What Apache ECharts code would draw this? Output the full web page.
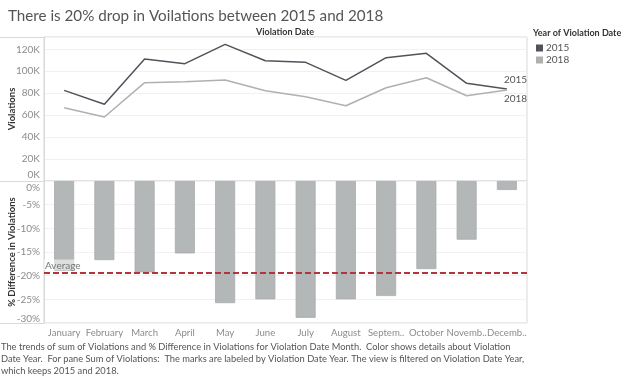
<!DOCTYPE html>
<html><head><meta charset="utf-8">
<script src="https://cdn.jsdelivr.net/npm/echarts@6/dist/echarts.min.js"></script>
<style>html,body{margin:0;padding:0;background:#fff}#c{width:624px;height:379px}</style>
</head><body><div id="c"></div>
<script>
const months = ['January','February','March','April','May','June','July','August','Septem..','October','Novemb..','Decemb..'];
const v2015 = [82600, 69900, 111200, 106900, 124500, 109600, 108100, 91700, 112400, 116300, 89000, 83800];
const v2018 = [66800, 58300, 89600, 90500, 92000, 82300, 76800, 68600, 85000, 94100, 77700, 82900];
const pctDiff = [-19.0, -16.7, -19.3, -15.3, -25.8, -25.0, -28.9, -25.0, -24.3, -18.6, -12.4, -1.9];
const years = ['2015', '2018'];

const FONT = 'Lato, "Open Sans", sans-serif';
const tickColor = '#8c8c8c';
const chart = echarts.init(document.getElementById('c'), null, {renderer: 'canvas'});

chart.setOption({
  animation: false,
  textStyle: {fontFamily: FONT},
  title: {
    text: 'There is 20% drop in Voilations between 2015 and 2018',
    left: 3, top: 4,
    textStyle: {fontSize: 15.2, fontWeight: 'normal', color: '#555', fontFamily: FONT}
  },
  legend: {
    data: years, orient: 'vertical', left: 531, top: 37,
    icon: 'rect', itemWidth: 7, itemHeight: 7, itemGap: 0,
    textStyle: {fontSize: 10, color: '#555', lineHeight: 12, padding: [0, 0, 0, -2]}
  },
  grid: [
    {left: 44, top: 37, width: 483, height: 144, show: true, borderColor: '#d9d9d9', borderWidth: 1,
     outerBoundsMode: 'none', containLabel: false},
    {left: 44, top: 181, width: 483, height: 142, show: true, borderColor: '#d9d9d9', borderWidth: 1,
     outerBoundsMode: 'none', containLabel: false}
  ],
  xAxis: [
    {type: 'category', gridIndex: 0, data: months, axisLabel: {show: false}, axisTick: {show: false},
     axisLine: {show: false}},
    {type: 'category', gridIndex: 1, data: months,
     axisLabel: {fontSize: 9.6, color: tickColor, margin: 5, interval: 0}, axisTick: {show: false},
     axisLine: {show: false}}
  ],
  yAxis: [
    {type: 'value', gridIndex: 0, min: 0, max: 131200, interval: 20000,
     name: 'Violations', nameLocation: 'middle', nameGap: 27, nameMoveOverlap: false,
     nameTextStyle: {fontSize: 9.5, fontWeight: 'bold', color: '#333'},
     axisLine: {show: true, lineStyle: {color: '#d9d9d9'}}, axisTick: {show: false},
     splitLine: {lineStyle: {color: '#f1f1f1'}},
     axisLabel: {fontSize: 10, color: tickColor, margin: 4,
       formatter: v => v === 0 ? '{z|0K}' : (v % 20000 === 0 ? (v / 1000) + 'K' : ''),
       rich: {z: {fontSize: 10, color: tickColor, padding: [0, 0, 13, 0]}}}},
    {type: 'value', gridIndex: 1, min: -30, max: 0, interval: 5,
     name: '% Difference in Violations', nameLocation: 'middle', nameGap: 27, nameMoveOverlap: false,
     nameTextStyle: {fontSize: 9.5, fontWeight: 'bold', color: '#333'},
     axisLine: {show: true, lineStyle: {color: '#d9d9d9'}}, axisTick: {show: false},
     splitLine: {lineStyle: {color: '#f1f1f1'}},
     axisLabel: {fontSize: 10, color: tickColor, margin: 4,
       formatter: v => v === 0 ? '{t|0%}' : (v === -30 ? '{b|-30%}' : v + '%'),
       rich: {t: {fontSize: 10, color: tickColor, padding: [13, 0, 0, 0]},
              b: {fontSize: 10, color: tickColor, padding: [0, 0, 8, 0]}}}}
  ],
  series: [
    {name: '2015', type: 'line', xAxisIndex: 0, yAxisIndex: 0, data: v2015,
     symbol: 'none', color: '#4f535a', lineStyle: {width: 1.5, color: '#4f535a'},
     endLabel: {show: true, formatter: years[0], fontSize: 10, color: '#555', distance: 0, offset: [-3, -9]}},
    {name: '2018', type: 'line', xAxisIndex: 0, yAxisIndex: 0, data: v2018,
     symbol: 'none', color: '#b0b0b0', lineStyle: {width: 1.5, color: '#b0b0b0'},
     endLabel: {show: true, formatter: years[1], fontSize: 10, color: '#555', distance: 0, offset: [-3, 9]}},
    {name: 'diff', type: 'bar', xAxisIndex: 1, yAxisIndex: 1, data: pctDiff, barWidth: 20,
     itemStyle: {color: '#b4b7b7', borderColor: '#a9acac', borderWidth: 0.8},
     markLine: {
       silent: true, symbol: 'none',
       data: [{type: 'average'}],
       lineStyle: {type: [6, 3], color: '#b2343d', width: 2},
       label: {show: true, position: 'insideStartTop', formatter: 'Average', fontSize: 10, color: '#777',
         distance: [0, 2], backgroundColor: 'rgba(255,255,255,0.55)', padding: [1, 1, 0, 1]}
     }}
  ],
  graphic: [
    {type: 'line', shape: {x1: 0, y1: 37.5, x2: 527, y2: 37.5}, style: {stroke: '#d9d9d9', lineWidth: 1}, silent: true},
    {type: 'line', shape: {x1: 0, y1: 181.5, x2: 527, y2: 181.5}, style: {stroke: '#d9d9d9', lineWidth: 1}, silent: true},
    {type: 'line', shape: {x1: 0, y1: 323.5, x2: 527, y2: 323.5}, style: {stroke: '#d9d9d9', lineWidth: 1}, silent: true},
    {type: 'text', left: 256, top: 28, style: {text: 'Violation Date', font: 'bold 9px ' + FONT, fill: '#333'}},
    {type: 'text', left: 533, top: 29, style: {text: 'Year of Violation Date', font: 'bold 9px ' + FONT, fill: '#333'}},
    {type: 'text', left: 1, top: 341, style: {
      text: 'The trends of sum of Violations and % Difference in Violations for Violation Date Month.  Color shows details about Violation\nDate Year.  For pane Sum of Violations:  The marks are labeled by Violation Date Year. The view is filtered on Violation Date Year,\nwhich keeps 2015 and 2018.',
      font: '9.3px ' + FONT, fill: '#555', lineHeight: 12}}
  ]
});
</script></body></html>
